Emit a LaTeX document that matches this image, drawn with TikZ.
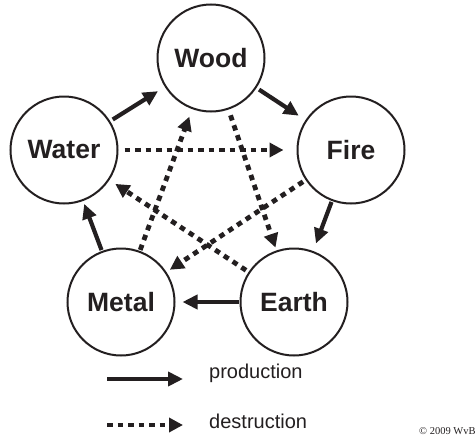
\documentclass[tikz,border=0pt]{standalone}
\usepackage{fontspec}
\setmainfont{Liberation Sans}
\newfontfamily\cpyfont{Liberation Serif}
\usetikzlibrary{arrows.meta}
\definecolor{ink}{RGB}{35,31,32}
\begin{document}
\begin{tikzpicture}[x=1pt,y=-1pt,
  element/.style={circle,draw=ink,line width=2pt,minimum size=107pt,inner sep=0pt,
    text=ink,font=\fontsize{26.5}{30}\selectfont\bfseries},
  prod/.style={draw=ink,line width=4.2pt,-{Triangle[length=15pt,width=14pt]}},
  destr/.style={draw=ink,line width=4.8pt,dash pattern=on 5.5pt off 5pt,-{Triangle[length=14pt,width=14pt]}},
  legtext/.style={anchor=base west,text=ink,font=\fontsize{20}{24}\selectfont,inner sep=0pt}]
\useasboundingbox (0,0) rectangle (476,439);
\node[element] (wood)  at (211,58)  {Wood};
\node[element] (water) at (64,150)  {Water};
\node[element] (fire)  at (351,150) {Fire};
\node[element] (metal) at (121,302) {Metal};
\node[element] (earth) at (294,302) {Earth};
% production cycle
\draw[prod,shorten <=3pt,shorten >=8pt] (water) -- (wood);
\draw[prod,shorten <=3pt,shorten >=8pt] (wood) -- (fire);
\draw[prod,shorten <=1pt,shorten >=8pt] (fire) -- (earth);
\draw[prod,shorten <=1pt,shorten >=7pt] (earth) -- (metal);
\draw[prod,shorten <=1pt,shorten >=3pt] (metal) -- (water);
% destruction cycle
\draw[destr,shorten <=6pt,shorten >=13pt] (water) -- (fire);
\draw[destr,shorten <=6pt,shorten >=3pt] (wood) -- (earth);
\draw[destr,shorten <=3pt,shorten >=4pt] (fire) -- (metal);
\draw[destr,shorten <=3pt,shorten >=7pt] (earth) -- (water);
\draw[destr,shorten <=1pt,shorten >=8pt] (metal) -- (wood);
% legend
\coordinate (pa) at (107,379);
\coordinate (pb) at (183,379);
\coordinate (da) at (107,425);
\coordinate (db) at (183,425);
\draw[prod] (pa) -- (pb);
\draw[destr] (da) -- (db);
\node[legtext] (ptext) at (209,378) {production};
\node[legtext] (dtext) at (209,428) {destruction};
\node[anchor=base west,inner sep=0pt,text=ink,font=\cpyfont\fontsize{10.5}{12}\selectfont] (cpy) at (419,434) {© 2009 WvB};
\end{tikzpicture}
\end{document}
